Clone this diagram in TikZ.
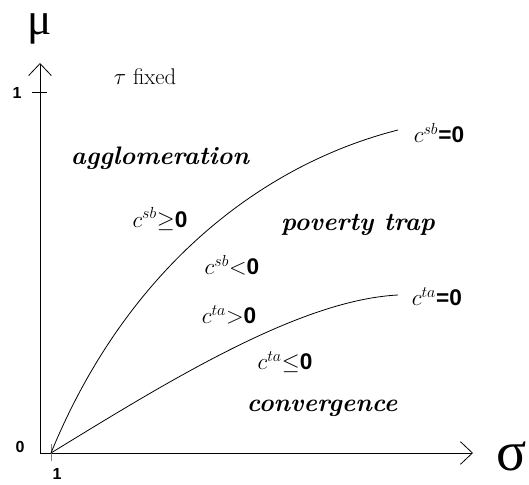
\documentclass[tikz,border=0pt]{standalone}
\usepackage{amsmath}
\usepackage{fontspec}
\setsansfont{Liberation Sans}
\newfontfamily\greekfont{Liberation Serif}
\usetikzlibrary{arrows.meta}

\begin{document}
\begin{tikzpicture}[x=0.75pt,y=-0.75pt,line width=0.6pt,
    axis/.style={-{Straight Barb[length=9pt,width=17pt,line width=0.6pt]}},
    region/.style={font=\fontsize{19}{22}\selectfont\bfseries\itshape},
    cond/.style={font=\fontsize{17}{20}\selectfont},
    ticklab/.style={font=\fontsize{12}{14}\selectfont\sffamily\bfseries}]
  \useasboundingbox (0,0) rectangle (529,485);

  % axes
  \coordinate (O) at (40,453);
  \coordinate (ytop) at (40,63);
  \coordinate (xend) at (473,453);
  \draw[axis] (O) -- (ytop);
  \draw[axis] (O) -- (xend);
  \node[font=\fontsize{34}{40}\selectfont\greekfont,anchor=base] (mu) at (40,35) {μ};
  \node[font=\fontsize{42}{48}\selectfont\greekfont,anchor=base] (sigma) at (512,470) {σ};

  % ticks
  \coordinate (ytick) at (40,92);
  \coordinate (xtick) at (51,453);
  \draw ([xshift=-6]ytick) -- ([xshift=5]ytick);
  \draw[gray] ([yshift=-6]xtick) -- ([yshift=7]xtick);
  \node[ticklab] (one y) at (17,93) {1};
  \node[ticklab] (zero) at (20,447) {0};
  \node[ticklab] (one x) at (57,474) {1};

  \node[font=\fontsize{17}{20}\selectfont] (taufix) at (145,77) {$\tau$ fixed};

  % boundaries
  \coordinate (sbend) at (398,130);
  \coordinate (taend) at (398,295);
  \draw (xtick) .. controls (126,270) and (260,165) .. (sbend);
  \draw (xtick) .. controls (170,380) and (300,300) .. (taend);
  \node[cond,anchor=west] (sbzero) at (409,133) {$c^{sb}$\textsf{\textbf{=0}}};
  \node[cond,anchor=west] (tazero) at (407,297) {$c^{ta}$\textsf{\textbf{=0}}};

  % regions
  \node[region] (agglo) at (160,158) {agglomeration};
  \node[cond] (sbge) at (160,219) {$c^{sb}$\textsf{\textbf{$\geq$0}}};
  \node[region] (trap) at (358,225) {poverty trap};
  \node[cond] (sblt) at (232,265) {$c^{sb}$\textsf{\textbf{$<$0}}};
  \node[cond] (tagt) at (229,315) {$c^{ta}$\textsf{\textbf{$>$0}}};
  \node[cond] (tale) at (285,362) {$c^{ta}$\textsf{\textbf{$\leq$0}}};
  \node[region] (conv) at (322,408) {convergence};
\end{tikzpicture}
\end{document}
